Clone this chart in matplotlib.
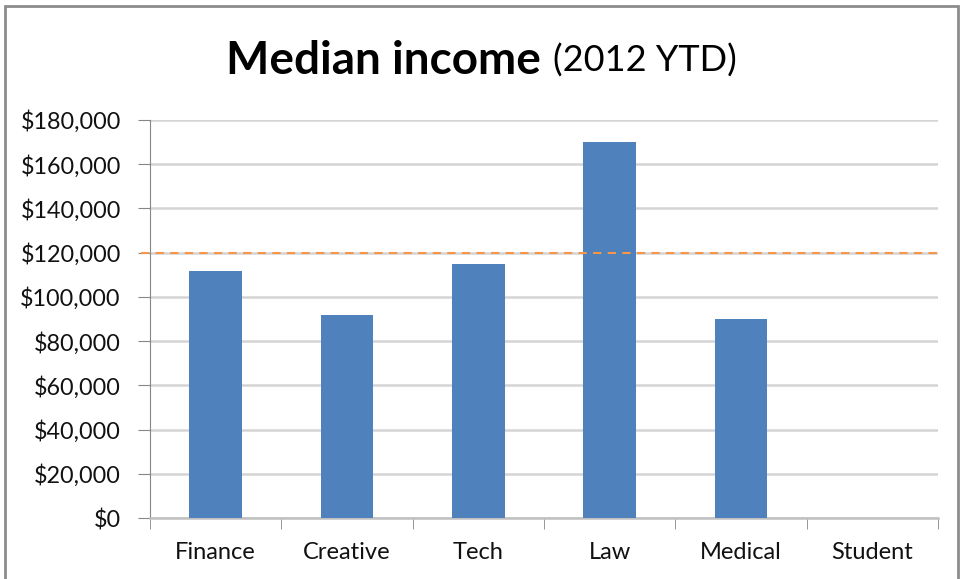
import matplotlib.pyplot as plt
from matplotlib.ticker import FuncFormatter
from matplotlib.patches import Rectangle

categories = ['Finance', 'Creative', 'Tech', 'Law', 'Medical', 'Student']
median_income = [111500, 92000, 115000, 170000, 90000, 0]
reference_level = 120000
yticks = list(range(0, 180001, 20000))

plt.rcParams['font.family'] = ['Lato', 'DejaVu Sans']

fig = plt.figure(figsize=(9.6, 5.79), dpi=100)
ax = fig.add_axes([150/960, 1-518/579, 788/960, 398/579])

x = list(range(len(categories)))
ax.bar(x, median_income, width=0.4, color='#4f81bd', zorder=3)
ax.axhline(reference_level, color='#f79646', linestyle=(0, (4, 3)), linewidth=1.5,
           zorder=4, xmin=-9/788, clip_on=False)

ax.set_xlim(-0.5, len(categories) - 0.5)
ax.set_ylim(0, 180000)
ax.set_yticks(yticks)
ax.yaxis.set_major_formatter(FuncFormatter(lambda v, p: '${:,.0f}'.format(v)))
ax.set_xticks(x)
ax.set_xticklabels(categories)
ax.set_xticks([i + 0.5 for i in range(-1, len(categories))], minor=True)
ax.tick_params(axis='x', which='major', length=0, pad=17, labelsize=17, colors='#111111')
ax.tick_params(axis='x', which='minor', length=8, color='#868686', direction='out')
ax.tick_params(axis='y', length=9, color='#868686', labelsize=16.8, pad=12, labelcolor='#111111')

ax.grid(axis='y', color='#d4d4d4', linewidth=1.8, zorder=0)
for s in ['top', 'right']:
    ax.spines[s].set_visible(False)
ax.spines['left'].set_color('#868686')
ax.spines['bottom'].set_color('#c0c0c0')
ax.spines['bottom'].set_linewidth(1.8)

fig.text(541/960, 1-61/579, 'Median income', ha='right', va='center',
         fontsize=33, fontweight='bold')
fig.text(553/960, 1-61/579, '(2012 YTD)', ha='left', va='center', fontsize=26)

fig.patches.append(Rectangle((5/960, -0.05), 953/960, 1-6/579+0.05, transform=fig.transFigure,
                             fill=False, edgecolor='#8c8c8c', linewidth=2))

fig.savefig('out.png', dpi=100)
